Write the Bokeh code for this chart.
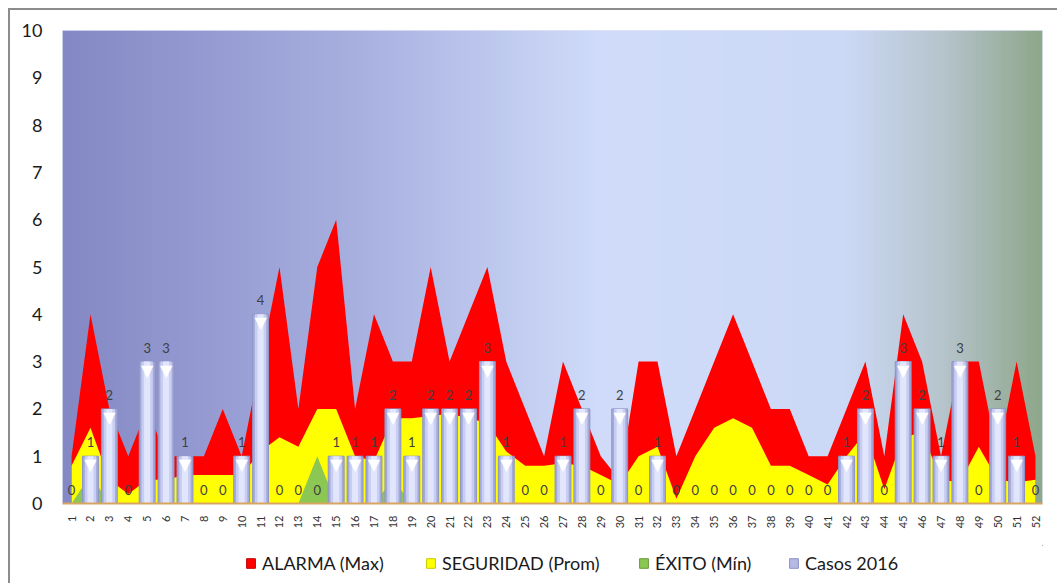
import numpy as np
from bokeh.plotting import figure
from bokeh.layouts import column
from bokeh.models import Range1d, FixedTicker, Legend, LegendItem
from bokeh.embed import file_html
from bokeh.resources import INLINE
from bokeh.core.properties import value

# ---------------- data ----------------
weeks = [str(i) for i in range(1, 53)]
alarma = [1, 4, 2, 1, 2, 1, 1, 1, 2, 1, 3, 5, 2, 5, 6, 2, 4, 3, 3, 5,
          3, 4, 5, 3, 2, 1, 3, 2, 1, 0.5, 3, 3, 1, 2, 3, 4, 3, 2, 2, 1,
          1, 2, 3, 1, 4, 3, 1, 3, 3, 1, 3, 1]
seguridad = [0.8, 1.6, 0.5, 0.2, 0.5, 0.5, 0.6, 0.6, 0.6, 0.6, 1.1, 1.4, 1.2, 2, 2, 1.0, 0.9, 1.8, 1.8, 1.85,
             1.9, 1.8, 1.7, 1.1, 0.8, 0.8, 0.85, 0.8, 0.6, 0.4, 1.0, 1.2, 0.1, 1.0, 1.6, 1.8, 1.6, 0.8, 0.8, 0.6,
             0.4, 1.0, 1.5, 0.3, 1.4, 1.5, 0.5, 0.45, 1.2, 0.5, 0.45, 0.5]
exito = [0, 0.6, 0, 0, 0, 0, 0, 0, 0, 0, 0, 0, 0, 1, 0, 0, 0, 0.5, 0, 0,
         0, 0, 0, 0, 0, 0, 0, 0, 0, 0, 0, 0, 0, 0, 0, 0, 0, 0, 0, 0,
         0, 0, 0, 0, 0, 0, 0, 0, 0, 0, 0, 0]
casos = [0, 1, 2, 0, 3, 3, 1, 0, 0, 1, 4, 0, 0, 0, 1, 1, 1, 2, 1, 2,
         2, 2, 3, 1, 0, 0, 1, 2, 0, 2, 0, 1, 0, 0, 0, 0, 0, 0, 0, 0,
         0, 1, 2, 0, 3, 2, 1, 3, 0, 2, 1, 0]
y_ticks = list(range(0, 11))
series_names = ["ALARMA (Max)", "SEGURIDAD (Prom)", "ÉXITO (Mín)", "Casos 2016"]
series_colors = ["#ff0000", "#ffff00", "#8cc653", "#b4b9e6"]
legend_edge = ["#c00000", "#c8c800", "#6a9a3a", "#8c92c6"]

x = list(range(1, len(weeks) + 1))
FONT = "Lato"

xr = Range1d(0.52, 52.37)
yr = Range1d(0, 10)

p = figure(width=1047, height=535, x_range=xr, y_range=yr,
           output_backend="svg", toolbar_location=None,
           min_border_left=52, min_border_right=15, min_border_top=20, min_border_bottom=42)
p.outline_line_color = None
p.grid.visible = False
p.background_fill_color = "#c4cdf2"
p.border_fill_color = "white"

# background horizontal gradient
stops = [(0.0, (132, 136, 196)), (0.30, (168, 176, 224)), (0.55, (208, 220, 250)),
         (0.80, (204, 217, 246)), (0.90, (182, 196, 204)), (1.0, (143, 167, 138))]
N = 400
img = np.zeros((1, N), dtype=np.uint32)
view = img.view(dtype=np.uint8).reshape((1, N, 4))
pos = np.linspace(0, 1, N)
for c in range(3):
    view[0, :, c] = np.interp(pos, [s[0] for s in stops], [s[1][c] for s in stops]).astype(np.uint8)
view[0, :, 3] = 255
p.image_rgba(image=[img], x=xr.start, y=yr.start, dw=xr.end - xr.start, dh=yr.end - yr.start)

# areas
p.varea(x=x, y1=[0] * len(x), y2=alarma, fill_color=series_colors[0])
p.varea(x=x, y1=[0] * len(x), y2=seguridad, fill_color=series_colors[1])
p.varea(x=x, y1=[0] * len(x), y2=exito, fill_color=series_colors[2])

# bars (cylinder-like)
nz = [i for i, v in enumerate(casos) if v > 0]
bx = [x[i] for i in nz]
bt = [casos[i] for i in nz]
p.vbar(x=bx, top=bt, width=0.84, fill_color="#a4aad8", line_color="#8e94c4", line_width=1)
p.vbar(x=bx, top=bt, width=0.6, fill_color="#c8cdf3", line_color=None)
p.vbar(x=bx, top=bt, width=0.32, fill_color="#e2e6fc", line_color=None)
p.text(x=bx, y=bt, text=["▼"] * len(bx), text_font=value("DejaVu Sans"),
       text_font_size="16px", text_color="white", text_align="center",
       text_baseline="top", y_offset=-1)

# data labels
p.text(x=x, y=casos, text=[str(v) for v in casos], text_font=value(FONT),
       text_font_size="13px", text_color="#404040", text_align="center",
       text_baseline="bottom", y_offset=-9)

# axes
p.yaxis.ticker = FixedTicker(ticks=y_ticks)
p.yaxis.axis_line_color = None
p.yaxis.major_tick_line_color = None
p.yaxis.minor_tick_line_color = None
p.yaxis.major_label_text_font = FONT
p.yaxis.major_label_text_font_size = "18px"
p.yaxis.major_label_text_color = "#1a1a1a"
p.yaxis.major_label_standoff = 14

p.xaxis.ticker = FixedTicker(ticks=x)
p.xaxis.major_label_overrides = {xi: w for xi, w in zip(x, weeks)}
p.xaxis.major_label_orientation = np.pi / 2
p.xaxis.axis_line_color = "#d9a460"
p.xaxis.axis_line_width = 2
p.xaxis.major_tick_line_color = None
p.xaxis.minor_tick_line_color = None
p.xaxis.major_label_text_font = FONT
p.xaxis.major_label_text_font_size = "11px"
p.xaxis.major_label_text_color = "#333333"
p.xaxis.major_label_standoff = 6

# legend strip below the chart (one legend per entry, placed like the original)
p2 = figure(width=1047, height=38, x_range=Range1d(0, 1), y_range=Range1d(0, 1),
            output_backend="svg", toolbar_location=None, min_border=0,
            x_axis_type=None, y_axis_type=None)
p2.outline_line_color = None
p2.grid.visible = False
p2.background_fill_color = "white"
p2.border_fill_color = "white"
legend_x = [183, 363, 576, 726]
for name, col, edge, lx in zip(series_names, series_colors, legend_edge, legend_x):
    r = p2.vbar(x=[5], top=[5], bottom=[4], width=0.1, fill_color=col, line_color=edge, line_width=1)
    lg = Legend(items=[LegendItem(label=name, renderers=[r])],
                orientation="horizontal", location=(lx, 9),
                label_text_font=FONT, label_text_font_size="18px", label_text_color="#1a1a1a",
                glyph_width=11, glyph_height=12, label_standoff=6,
                padding=2, margin=0, border_line_color=None, background_fill_alpha=0)
    p2.add_layout(lg, "center")

layout = column(p, p2, spacing=0, margin=(8, 0, 0, 8),
                styles={"border-top": "2px solid #8c8c8c", "border-left": "2px solid #8c8c8c"})

open("out.html", "w").write(file_html(layout, INLINE))
